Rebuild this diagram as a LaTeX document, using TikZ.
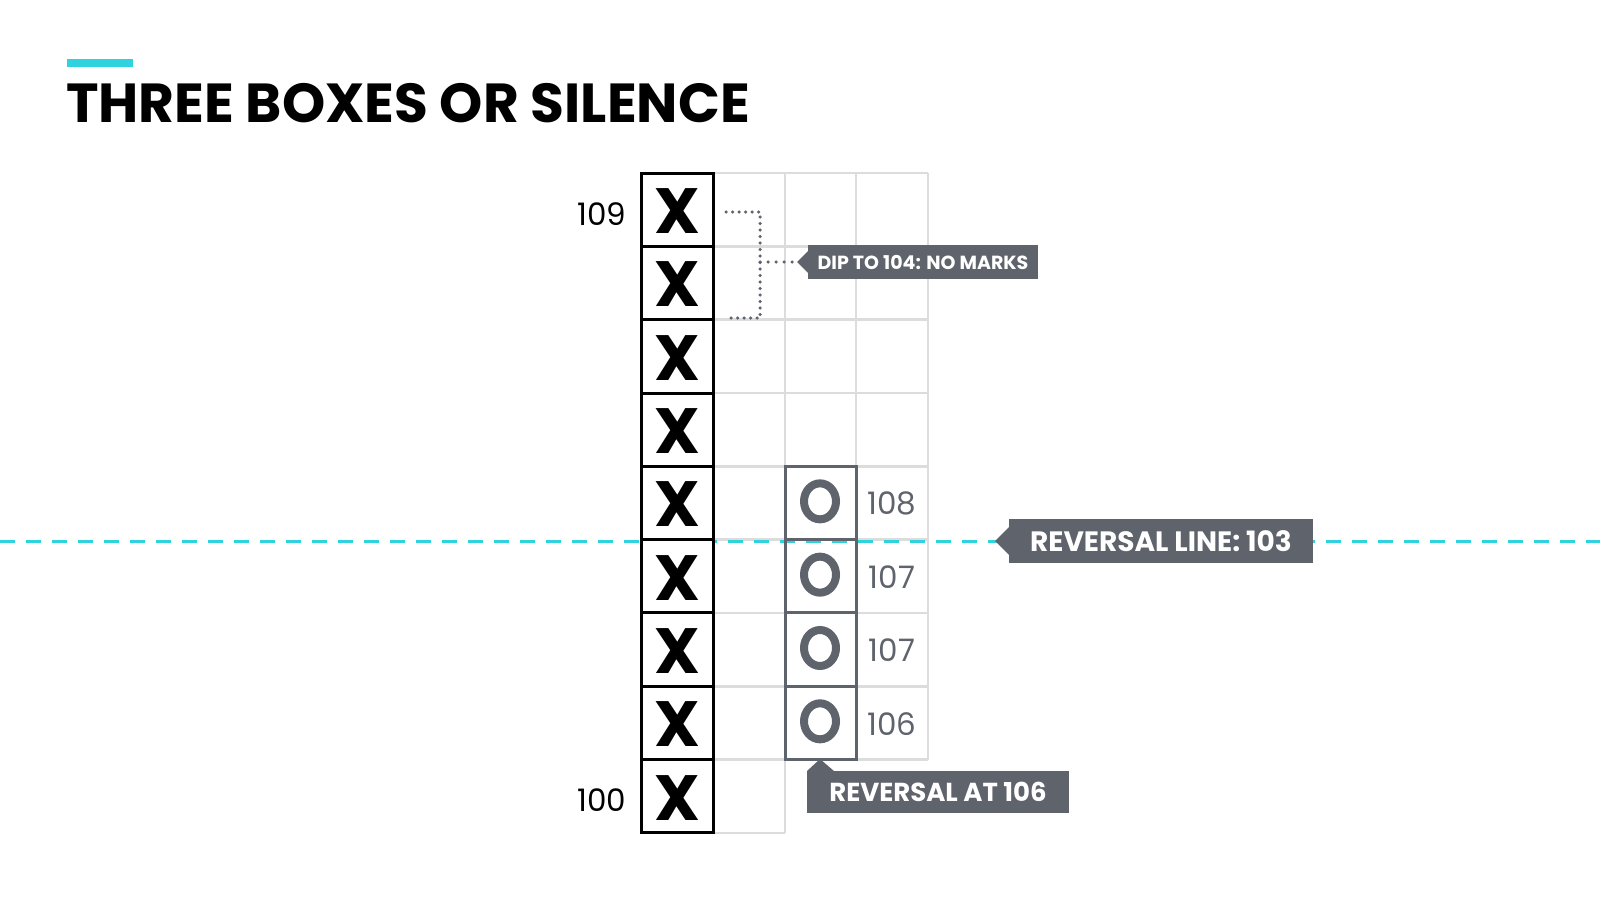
\documentclass[tikz,border=0pt]{standalone}
\usepackage{fontspec}
\usetikzlibrary{shapes.geometric}
\setmainfont{Poppins}
\begin{document}
\definecolor{cy}{HTML}{2ED3DE}
\definecolor{gy}{HTML}{5F636B}
\definecolor{lg}{HTML}{DCDCDC}
\begin{tikzpicture}[x=1pt,y=-1pt,
  xm/.style={font=\fontsize{64}{64}\selectfont\bfseries},
  om/.style={ellipse,draw=gy,line width=8pt,minimum width=32pt,minimum height=36pt,inner sep=0pt},
  num/.style={font=\fontsize{31}{31}\selectfont,text=gy},
  lbl/.style={font=\fontsize{31}{31}\selectfont}]
\useasboundingbox (0,0) rectangle (1600,914);
\fill[cy] (67,59) rectangle (133,67);
\node[anchor=base west,inner sep=0pt,font=\fontsize{55}{55}\selectfont\bfseries] (title) at (66,122) {THREE BOXES OR SILENCE};
% light grid
\foreach \i in {0,...,9}{\draw[lg,line width=2.5pt] (713,{173+73.33*\i}) -- (785,{173+73.33*\i});}
\foreach \i in {0,...,8}{\draw[lg,line width=2.5pt] (785,{173+73.33*\i}) -- (928,{173+73.33*\i});}
\draw[lg,line width=2.5pt] (785,173) -- (785,833);
\draw[lg,line width=2.5pt] (856,173) -- (856,759.7);
\draw[lg,line width=2.5pt] (928,173) -- (928,759.7);
% cyan line
\draw[cy,line width=3pt,dash pattern=on 15pt off 11pt] (0,541) -- (1600,541);
% X column
\foreach \i/\n in {0/x9,1/x8,2/x7,3/x6,4/x5,5/x4,6/x3,7/x2,8/x1}{
  \draw[black,fill=white,line width=3pt] (641,{173+73.33*\i}) rectangle (713,{173+73.33*(\i+1)});
  \node[xm] (\n) at (677,{211+73.33*\i}) {X};}
% O column
\foreach \i/\v/\n in {4/108/o4,5/107/o3,6/107/o2,7/106/o1}{
  \draw[gy,line width=3pt] (785,{173+73.33*\i}) rectangle (856,{173+73.33*(\i+1)});
  \node[om] (\n) at (820,{208+73.33*\i}) {};
  \node[num] (n\n) at (892,{210.5+73.33*\i}) {\v};}
\node[lbl] (l109) at (602,214) {109};
\node[lbl] (l100) at (602,800) {100};
% dotted bracket
\coordinate (b1) at (726,212); \coordinate (b2) at (726,318); \coordinate (bm) at (760,262);
\draw[gy,line width=3.5pt,dash pattern=on 0pt off 6.5pt,line cap=round] (b1) -- (760,212) -- (760,318) -- (b2);
\draw[gy,line width=3.5pt,dash pattern=on 0pt off 8pt,line cap=round] (bm) -- (792,262);
% callouts
\fill[gy] (808,245) rectangle (1038,279); \fill[gy] (797,262) -- (808,251) -- (808,273) -- cycle;
\node[text=white,font=\fontsize{19}{19}\selectfont\bfseries] (dip) at (923,262) {DIP TO 104: NO MARKS};
\fill[gy] (1009,519) rectangle (1313,563); \fill[gy] (995,541) -- (1009,527) -- (1009,555) -- cycle;
\node[text=white,font=\fontsize{28}{28}\selectfont\bfseries] (rl) at (1161,541) {REVERSAL LINE: 103};
\fill[gy] (807,771) rectangle (1069,813); \fill[gy] (820,759) -- (807,771) -- (834,771) -- cycle;
\node[text=white,font=\fontsize{26}{26}\selectfont\bfseries] (ra) at (938,792) {REVERSAL AT 106};
\end{tikzpicture}
\end{document}
